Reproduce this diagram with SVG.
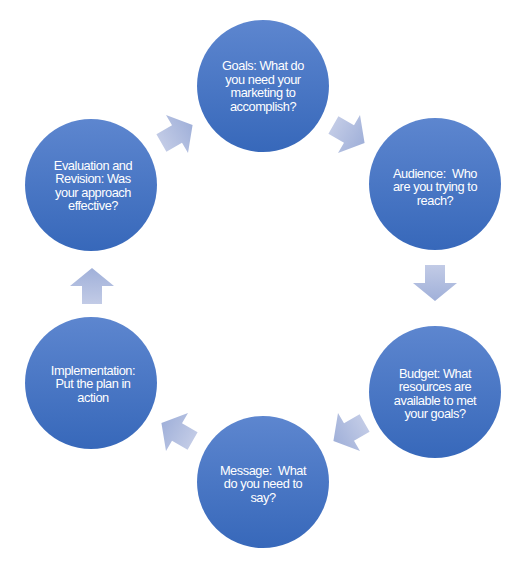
<svg xmlns="http://www.w3.org/2000/svg" width="525" height="573" viewBox="0 0 525 573">
<defs>
<linearGradient id="cg" x1="0" y1="0" x2="0" y2="1">
<stop offset="0" stop-color="#5d86cf"/>
<stop offset="1" stop-color="#3768ba"/>
</linearGradient>
<linearGradient id="ag" x1="0" y1="0" x2="1" y2="0">
<stop offset="0" stop-color="#c2cbe6"/>
<stop offset="1" stop-color="#a0b0d9"/>
</linearGradient>
<path id="arr" d="M-18,-10 L0,-10 L0,-22 L18,0 L0,22 L0,10 L-18,10 Z"/>
</defs>
<style>
.node circle{fill:url(#cg);}
.node text{fill:#ffffff;font-family:"Liberation Sans",Arial,sans-serif;font-size:12.8px;letter-spacing:-0.45px;text-anchor:middle;}
#connectors use{fill:url(#ag);}
</style>
<rect width="525" height="573" fill="#ffffff"/>
<g id="connectors">
<use href="#arr" transform="translate(349,134) rotate(30)"/>
<use href="#arr" transform="translate(435,283) rotate(90)"/>
<use href="#arr" transform="translate(349,432) rotate(150)"/>
<use href="#arr" transform="translate(177,432) rotate(210)"/>
<use href="#arr" transform="translate(92,286) rotate(270)"/>
<use href="#arr" transform="translate(177,134) rotate(330)"/>
</g>
<g id="goals" class="node">
<circle cx="263" cy="86" r="66"/>
<text x="263" y="70">Goals: What do</text>
<text x="263" y="83.5">you need your</text>
<text x="263" y="97">marketing to</text>
<text x="263" y="110.5">accomplish?</text>
</g>
<g id="audience" class="node">
<circle cx="435" cy="184" r="66"/>
<text x="435" y="177.5">Audience:&#160; Who</text>
<text x="435" y="191">are you trying to</text>
<text x="435" y="204.5">reach?</text>
</g>
<g id="budget" class="node">
<circle cx="435" cy="392" r="66"/>
<text x="435" y="377.5">Budget: What</text>
<text x="435" y="391">resources are</text>
<text x="435" y="404.5">available to met</text>
<text x="435" y="418">your goals?</text>
</g>
<g id="message" class="node">
<circle cx="263" cy="482" r="66"/>
<text x="263" y="474.5">Message:&#160; What</text>
<text x="263" y="488">do you need to</text>
<text x="263" y="501.5">say?</text>
</g>
<g id="implementation" class="node">
<circle cx="91" cy="383" r="66"/>
<text x="93" y="374.5">Implementation:</text>
<text x="93" y="388">Put the plan in</text>
<text x="93" y="401.5">action</text>
</g>
<g id="evaluation" class="node">
<circle cx="91" cy="185" r="66"/>
<text x="93" y="169.5">Evaluation and</text>
<text x="93" y="183">Revision: Was</text>
<text x="93" y="196.5">your approach</text>
<text x="93" y="210">effective?</text>
</g>
</svg>
